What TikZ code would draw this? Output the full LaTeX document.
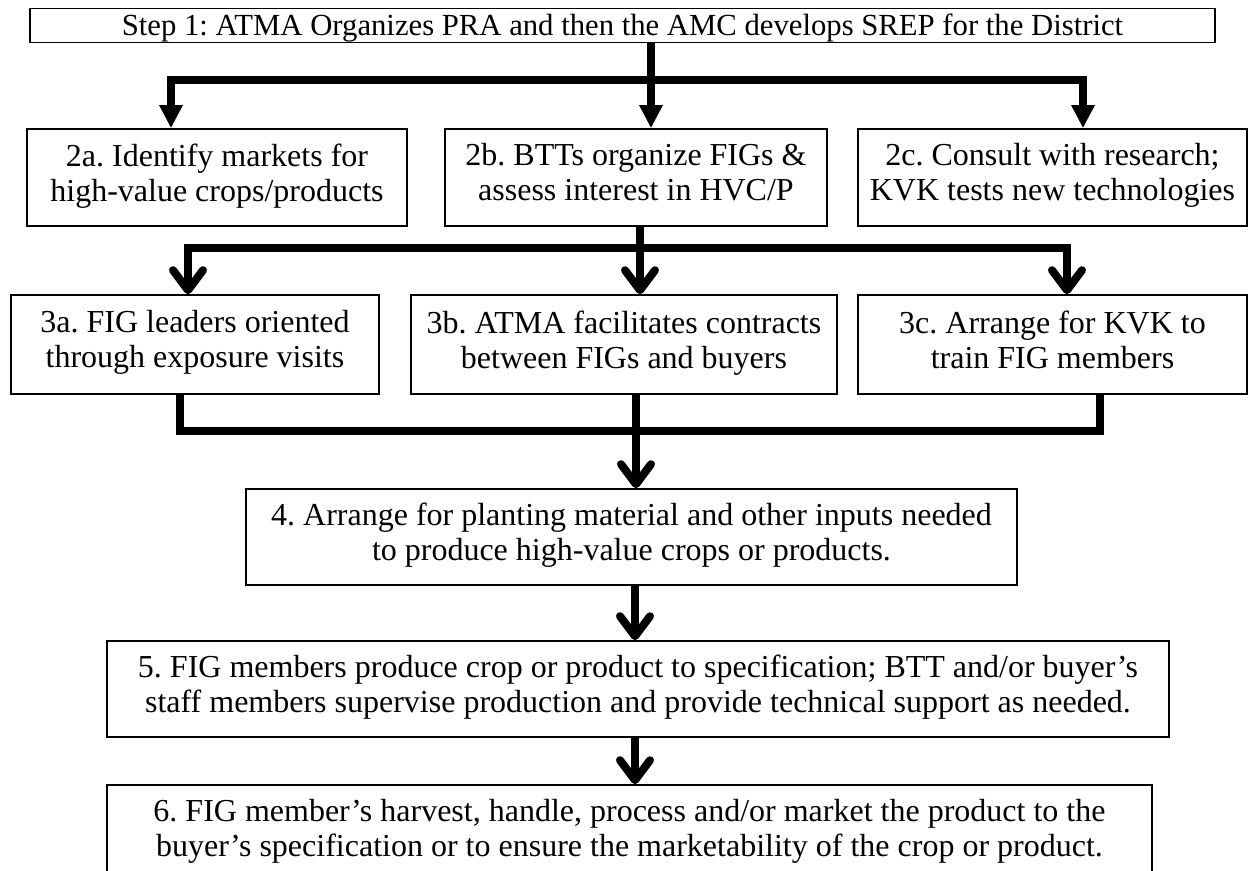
\documentclass[tikz,border=0pt]{standalone}
\usepackage{fontspec}
\setmainfont{Liberation Serif}
\usetikzlibrary{arrows.meta}
\frenchspacing

\tikzset{
  stepbox/.style={draw,line width=0.8pt,inner sep=0pt,align=center,
    execute at begin node=\strut,execute at end node=\strut,
    font=\fontsize{16}{17.5}\selectfont},
  bus/.style={line width=4pt},
  tri/.style={-{Triangle[length=11.5pt,width=11pt]}},
  chev/.style={-{Straight Barb[length=10pt,width=15pt,round]}},
}

\begin{document}
\begin{tikzpicture}[x=0.5pt,y=-0.5pt]
    \clip (0,0) rectangle (1248,871);
    \useasboundingbox (0,0) rectangle (1248,871);
    % boxes
    \node[stepbox,minimum width=592.5pt,minimum height=16.5pt,execute at begin node={},
        execute at end node={},text height=13.5pt,text depth=3.5pt,
        font=\fontsize{15.35}{16.5}\selectfont]
        (step1) at (622.5,25.5) {Step 1: ATMA Organizes PRA and then the AMC develops SREP for the District};
    \node[stepbox,minimum width=190pt,minimum height=48.5pt] (n2a) at (217,177.5)
        {2a. Identify markets for\\high-value crops/products};
    \node[stepbox,minimum width=191pt,minimum height=48.5pt] (n2b) at (636,177.5)
        {2b. BTTs organize FIGs \&\\assess interest in HVC/P};
    \node[stepbox,minimum width=194.5pt,minimum height=48.5pt] (n2c) at (1052.5,177.5)
        {2c. Consult with research;\\KVK tests new technologies};
    \node[stepbox,minimum width=184pt,minimum height=49.5pt] (n3a) at (195,344.5)
        {3a. FIG leaders oriented\\through exposure visits};
    \node[stepbox,minimum width=213pt,minimum height=49.5pt] (n3b) at (624,344.5)
        {3b. ATMA facilitates contracts\\between FIGs and buyers};
    \node[stepbox,minimum width=194.5pt,minimum height=49.5pt] (n3c) at (1052.5,344.5)
        {3c. Arrange for KVK to\\train FIG members};
    \node[stepbox,minimum width=385.5pt,minimum height=48pt] (n4) at (631.5,537)
        {4. Arrange for planting material and other inputs needed\\to produce high-value crops or products.};
    \node[stepbox,minimum width=531pt,minimum height=48pt] (n5) at (638,689)
        {5. FIG members produce crop or product to specification; BTT and/or buyer’s\\staff members supervise production and provide technical support as needed.};
    \node[stepbox,minimum width=522.5pt,minimum height=48pt] (n6) at (629.5,833)
        {6. FIG member’s harvest, handle, process and/or market the product to the\\buyer’s specification or to ensure the marketability of the crop or product.};

    % step 1 to row 2
    \coordinate (t1) at (651,80);
    \coordinate (t1l) at (171,80);
    \coordinate (t1r) at (1083,80);
    \draw[bus] (step1.south -| t1) -- (t1);
    \draw[bus,{Triangle[length=11.5pt,width=11pt]}-{Triangle[length=11.5pt,width=11pt]}]
        (n2a.north -| t1l) -- (t1l) -- (t1r) -- (n2c.north -| t1r);
    \draw[bus,tri] (t1) -- (n2b.north -| t1);

    % row 2 to row 3
    \coordinate (t2) at (640,248);
    \coordinate (t2l) at (188,248);
    \coordinate (t2r) at (1067,248);
    \draw[bus] (n2b.south -| t2) -- (t2);
    \draw[bus,{Straight Barb[length=10pt,width=15pt,round]}-{Straight Barb[length=10pt,width=15pt,round]}]
        (n3a.north -| t2l) -- (t2l) -- (t2r) -- (n3c.north -| t2r);
    \draw[bus,chev] (t2) -- (n3b.north -| t2);

    % row 3 to 4
    \coordinate (t3l) at (180,431);
    \coordinate (t3r) at (1100,431);
    \draw[bus] (n3a.south -| t3l) -- (t3l) -- (t3r) -- (n3c.south -| t3r);
    \draw[bus,chev] (n3b.south -| 636,0) -- (n4.north -| 636,0);

    % 4 to 5 to 6
    \draw[bus,chev] (n4.south -| 635,0) -- (n5.north -| 635,0);
    \draw[bus,chev] (n5.south -| 635,0) -- (n6.north -| 635,0);
\end{tikzpicture}
\end{document}
